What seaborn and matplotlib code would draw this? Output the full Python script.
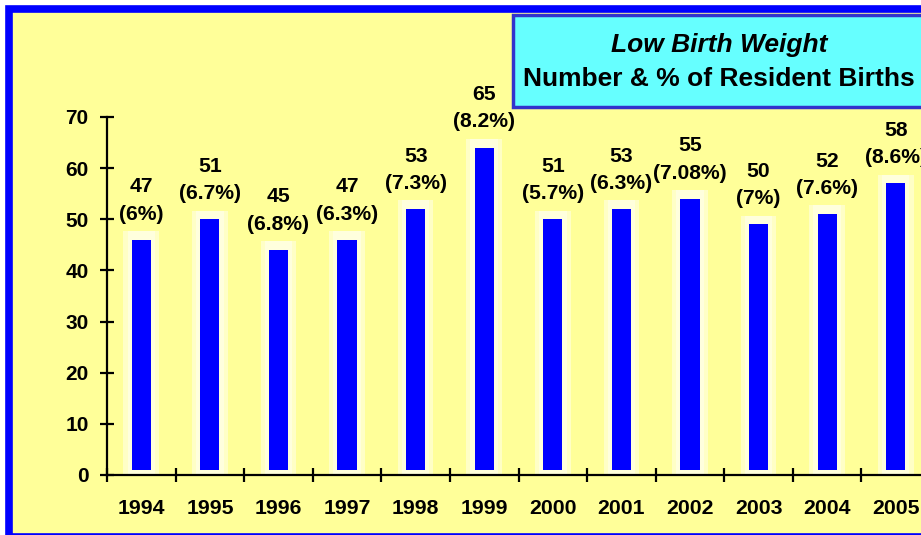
import matplotlib
matplotlib.use("Agg")
import matplotlib.pyplot as plt
from matplotlib.patches import Rectangle
import numpy as np
import pandas as pd
import seaborn as sns

years = ["1994", "1995", "1996", "1997", "1998", "1999",
         "2000", "2001", "2002", "2003", "2004", "2005"]
births = [47, 51, 45, 47, 53, 65, 51, 53, 55, 50, 52, 58]
pct = ["6%", "6.7%", "6.8%", "6.3%", "7.3%", "8.2%",
       "5.7%", "6.3%", "7.08%", "7%", "7.6%", "8.6%"]

plt.rcParams['font.family'] = ['Liberation Sans', 'DejaVu Sans']
plt.rcParams['font.weight'] = 'bold'

df = pd.DataFrame({'year': years, 'n': births})
df['glow'] = df['n'] + 0.7

fig = plt.figure(figsize=(9.21, 5.35), dpi=100)
fig.patch.set_facecolor('white')

W, H = 921, 535
# blue frame with yellow fill
fig.patches.append(Rectangle((9 / W, 1 - 537 / H), 1.2, (537 - 9) / H,
                             transform=fig.transFigure, facecolor='#FFFF99',
                             edgecolor='#0000FF', linewidth=5.5, zorder=-5))

ax = fig.add_axes([107 / W, (H - 475) / H, 823 / W, 358 / H])
ax.set_facecolor('none')
ax.set_zorder(1)

# pale glow behind each bar
sns.barplot(data=df, x='year', y='glow', color='#FFFFC6', width=0.52,
            saturation=1, ax=ax, zorder=1)
sns.barplot(data=df, x='year', y='glow', color='#FFFFDD', width=0.40,
            saturation=1, ax=ax, zorder=1)
n_glow = len(ax.patches)
sns.barplot(data=df, x='year', y='n', color='#0000FF', width=0.28,
            saturation=1, ax=ax, zorder=2)
# blue bars sit slightly above the axis and below the glow top
for p in ax.patches[n_glow:]:
    h = p.get_height()
    p.set_y(0.9)
    p.set_height(h - 1.9)

for i, (v, s) in enumerate(zip(births, pct)):
    ax.annotate(f"{v}\n({s})", xy=(i, v), xytext=(0, 8),
                textcoords='offset points', ha='center', va='bottom',
                fontsize=15.2, fontweight='bold', linespacing=1.55, zorder=5,
                annotation_clip=False)

ax.set_xlim(-0.5, 11.5)
ax.set_ylim(0, 70)
ax.set_yticks(np.arange(0, 71, 10))
ax.set_xticks(np.arange(-0.5, 12, 1), minor=True)
ax.set_xlabel('')
ax.set_ylabel('')
for side in ['top', 'right']:
    ax.spines[side].set_visible(False)
for side in ['left', 'bottom']:
    ax.spines[side].set_linewidth(1.6)
    ax.spines[side].set_color('black')
    ax.spines[side].set_zorder(6)

ax.tick_params(axis='y', direction='inout', length=10.5, width=1.6,
               labelsize=15, pad=8)
ax.tick_params(axis='x', which='major', length=0, labelsize=15.3, pad=17)
ax.tick_params(axis='x', which='minor', direction='inout', length=10,
               width=1.6)
for lab in ax.get_xticklabels() + ax.get_yticklabels():
    lab.set_fontweight('bold')

# title box, above the axes
tax = fig.add_axes([0, 0, 1, 1])
tax.set_axis_off()
tax.set_zorder(3)
tax.add_patch(Rectangle((513 / W, 1 - 107 / H), 0.6, 92 / H,
                        transform=tax.transAxes, facecolor='#66FFFF',
                        edgecolor='#3333CC', linewidth=2.5))
tax.text(719 / W, 1 - 45 / H, "Low Birth Weight", ha='center', va='center',
         fontsize=19, fontweight='bold', style='italic',
         transform=tax.transAxes)
tax.text(719 / W, 1 - 79 / H, "Number & % of Resident Births", ha='center',
         va='center', fontsize=19, fontweight='bold',
         transform=tax.transAxes)

fig.savefig('out.png', dpi=100, facecolor=fig.get_facecolor())
